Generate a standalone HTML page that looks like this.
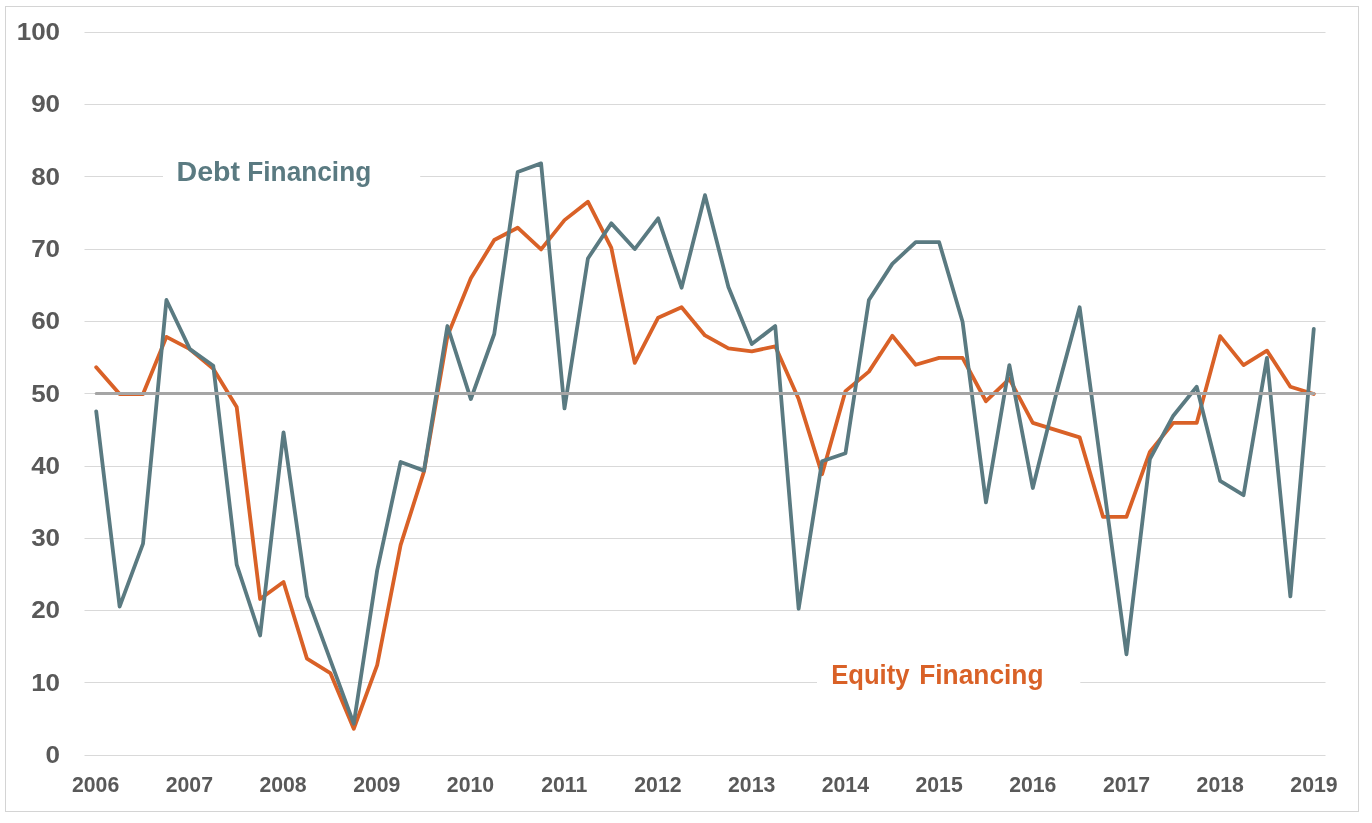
<!DOCTYPE html>
<html lang="en"><head><meta charset="utf-8"><title>Debt and Equity Financing</title>
<style>
html,body{margin:0;padding:0;background:#fff;}
svg{display:block;}
text{font-family:"Liberation Sans",sans-serif;font-weight:bold;}
.ax{fill:#595959;}
</style></head><body>
<svg width="1372" height="823" viewBox="0 0 1372 823">
<rect x="0" y="0" width="1372" height="823" fill="#fff"/>
<rect x="5.5" y="6.5" width="1353" height="805" fill="#fff" stroke="#d4d4d4" stroke-width="1"/>

<g stroke="#d9d9d9" stroke-width="1">
<line x1="84.5" x2="1325.5" y1="32.5" y2="32.5"/>
<line x1="84.5" x2="1325.5" y1="104.5" y2="104.5"/>
<line x1="84.5" x2="1325.5" y1="176.5" y2="176.5"/>
<line x1="84.5" x2="1325.5" y1="249.5" y2="249.5"/>
<line x1="84.5" x2="1325.5" y1="321.5" y2="321.5"/>
<line x1="84.5" x2="1325.5" y1="393.5" y2="393.5"/>
<line x1="84.5" x2="1325.5" y1="466.5" y2="466.5"/>
<line x1="84.5" x2="1325.5" y1="538.5" y2="538.5"/>
<line x1="84.5" x2="1325.5" y1="610.5" y2="610.5"/>
<line x1="84.5" x2="1325.5" y1="682.5" y2="682.5"/>
<line x1="84.5" x2="1325.5" y1="755.5" y2="755.5"/>
</g>
<polyline fill="none" stroke="#d96127" stroke-width="3.8" stroke-linejoin="round" stroke-linecap="round" points="96.20,367.25 119.62,394.00 143.03,394.00 166.44,336.88 189.86,349.17 213.27,368.69 236.69,407.01 260.11,598.97 283.52,581.98 306.94,658.62 330.35,673.08 353.76,728.75 377.18,665.12 400.59,545.11 424.01,471.36 447.42,336.16 470.84,278.32 494.25,240.00 517.67,227.71 541.09,249.40 564.50,220.12 587.91,201.68 611.33,247.95 634.75,362.91 658.16,317.72 681.58,307.24 704.99,335.44 728.40,348.45 751.82,351.34 775.24,346.28 798.65,399.06 822.07,474.25 845.48,391.11 868.89,371.59 892.31,335.80 915.73,364.72 939.14,357.85 962.56,357.85 985.97,401.23 1009.38,378.82 1032.80,422.92 1056.21,430.15 1079.63,437.38 1103.04,516.91 1126.46,516.91 1149.88,451.84 1173.29,422.92 1196.70,422.92 1220.12,336.16 1243.54,365.08 1266.95,350.62 1290.37,386.77 1313.78,394.00"/>
<polyline fill="none" stroke="#5a7a81" stroke-width="3.8" stroke-linejoin="round" stroke-linecap="round" points="96.20,411.35 119.62,606.56 143.03,543.66 166.44,300.01 189.86,349.17 213.27,365.80 236.69,564.63 260.11,635.48 283.52,432.32 306.94,596.44 330.35,660.06 353.76,723.69 377.18,570.41 400.59,461.96 424.01,470.64 447.42,326.04 470.84,399.06 494.25,333.99 517.67,172.04 541.09,163.36 564.50,408.46 587.91,258.44 611.33,223.37 634.75,249.04 658.16,218.31 681.58,287.72 704.99,195.17 728.40,287.00 751.82,344.11 775.24,326.04 798.65,608.73 822.07,461.24 845.48,453.29 868.89,300.01 892.31,263.86 915.73,242.17 939.14,242.17 962.56,321.70 985.97,502.45 1009.38,365.08 1032.80,487.99 1056.21,394.00 1079.63,307.24 1103.04,480.76 1126.46,654.28 1149.88,459.07 1173.29,415.69 1196.70,386.77 1220.12,480.76 1243.54,495.22 1266.95,357.85 1290.37,596.44 1313.78,328.93"/>
<line x1="96.20" x2="1313.78" y1="393.45" y2="393.45" stroke="#a5a5a5" stroke-width="3.0" stroke-linecap="round"/>
<rect x="163" y="150" width="257.2" height="50" fill="#fff"/>
<rect x="817" y="652" width="263.3" height="50" fill="#fff"/>
<text id="debt" y="181.4" font-size="28.2" fill="#5a7a81"><tspan id="d1" x="176.6" textLength="63.5" lengthAdjust="spacingAndGlyphs">Debt</tspan> <tspan id="d2" x="247.3" textLength="123.9" lengthAdjust="spacingAndGlyphs">Financing</tspan></text>
<text id="equity" y="683.7" font-size="28.2" fill="#d96127"><tspan id="e1" x="831.2" textLength="78.3" lengthAdjust="spacingAndGlyphs">Equity</tspan> <tspan id="e2" x="919.2" textLength="124.3" lengthAdjust="spacingAndGlyphs">Financing</tspan></text>
<text class="ax yl" transform="translate(60.1,40.05) scale(1.08,1)" font-size="24.1" text-anchor="end">100</text>
<text class="ax yl" transform="translate(60.1,112.35) scale(1.08,1)" font-size="24.1" text-anchor="end">90</text>
<text class="ax yl" transform="translate(60.1,184.65) scale(1.08,1)" font-size="24.1" text-anchor="end">80</text>
<text class="ax yl" transform="translate(60.1,256.95) scale(1.08,1)" font-size="24.1" text-anchor="end">70</text>
<text class="ax yl" transform="translate(60.1,329.25) scale(1.08,1)" font-size="24.1" text-anchor="end">60</text>
<text class="ax yl" transform="translate(60.1,401.55) scale(1.08,1)" font-size="24.1" text-anchor="end">50</text>
<text class="ax yl" transform="translate(60.1,473.85) scale(1.08,1)" font-size="24.1" text-anchor="end">40</text>
<text class="ax yl" transform="translate(60.1,546.15) scale(1.08,1)" font-size="24.1" text-anchor="end">30</text>
<text class="ax yl" transform="translate(60.1,618.45) scale(1.08,1)" font-size="24.1" text-anchor="end">20</text>
<text class="ax yl" transform="translate(60.1,690.75) scale(1.08,1)" font-size="24.1" text-anchor="end">10</text>
<text class="ax yl" transform="translate(60.1,763.05) scale(1.08,1)" font-size="24.1" text-anchor="end">0</text>
<text class="ax xl" transform="translate(95.60,791.9) scale(0.98,1)" font-size="21.7" text-anchor="middle">2006</text>
<text class="ax xl" transform="translate(189.32,791.9) scale(0.98,1)" font-size="21.7" text-anchor="middle">2007</text>
<text class="ax xl" transform="translate(283.04,791.9) scale(0.98,1)" font-size="21.7" text-anchor="middle">2008</text>
<text class="ax xl" transform="translate(376.76,791.9) scale(0.98,1)" font-size="21.7" text-anchor="middle">2009</text>
<text class="ax xl" transform="translate(470.48,791.9) scale(0.98,1)" font-size="21.7" text-anchor="middle">2010</text>
<text class="ax xl" transform="translate(564.20,791.9) scale(0.98,1)" font-size="21.7" text-anchor="middle">2011</text>
<text class="ax xl" transform="translate(657.92,791.9) scale(0.98,1)" font-size="21.7" text-anchor="middle">2012</text>
<text class="ax xl" transform="translate(751.64,791.9) scale(0.98,1)" font-size="21.7" text-anchor="middle">2013</text>
<text class="ax xl" transform="translate(845.36,791.9) scale(0.98,1)" font-size="21.7" text-anchor="middle">2014</text>
<text class="ax xl" transform="translate(939.08,791.9) scale(0.98,1)" font-size="21.7" text-anchor="middle">2015</text>
<text class="ax xl" transform="translate(1032.80,791.9) scale(0.98,1)" font-size="21.7" text-anchor="middle">2016</text>
<text class="ax xl" transform="translate(1126.52,791.9) scale(0.98,1)" font-size="21.7" text-anchor="middle">2017</text>
<text class="ax xl" transform="translate(1220.24,791.9) scale(0.98,1)" font-size="21.7" text-anchor="middle">2018</text>
<text class="ax xl" transform="translate(1313.96,791.9) scale(0.98,1)" font-size="21.7" text-anchor="middle">2019</text>
</svg></body></html>
